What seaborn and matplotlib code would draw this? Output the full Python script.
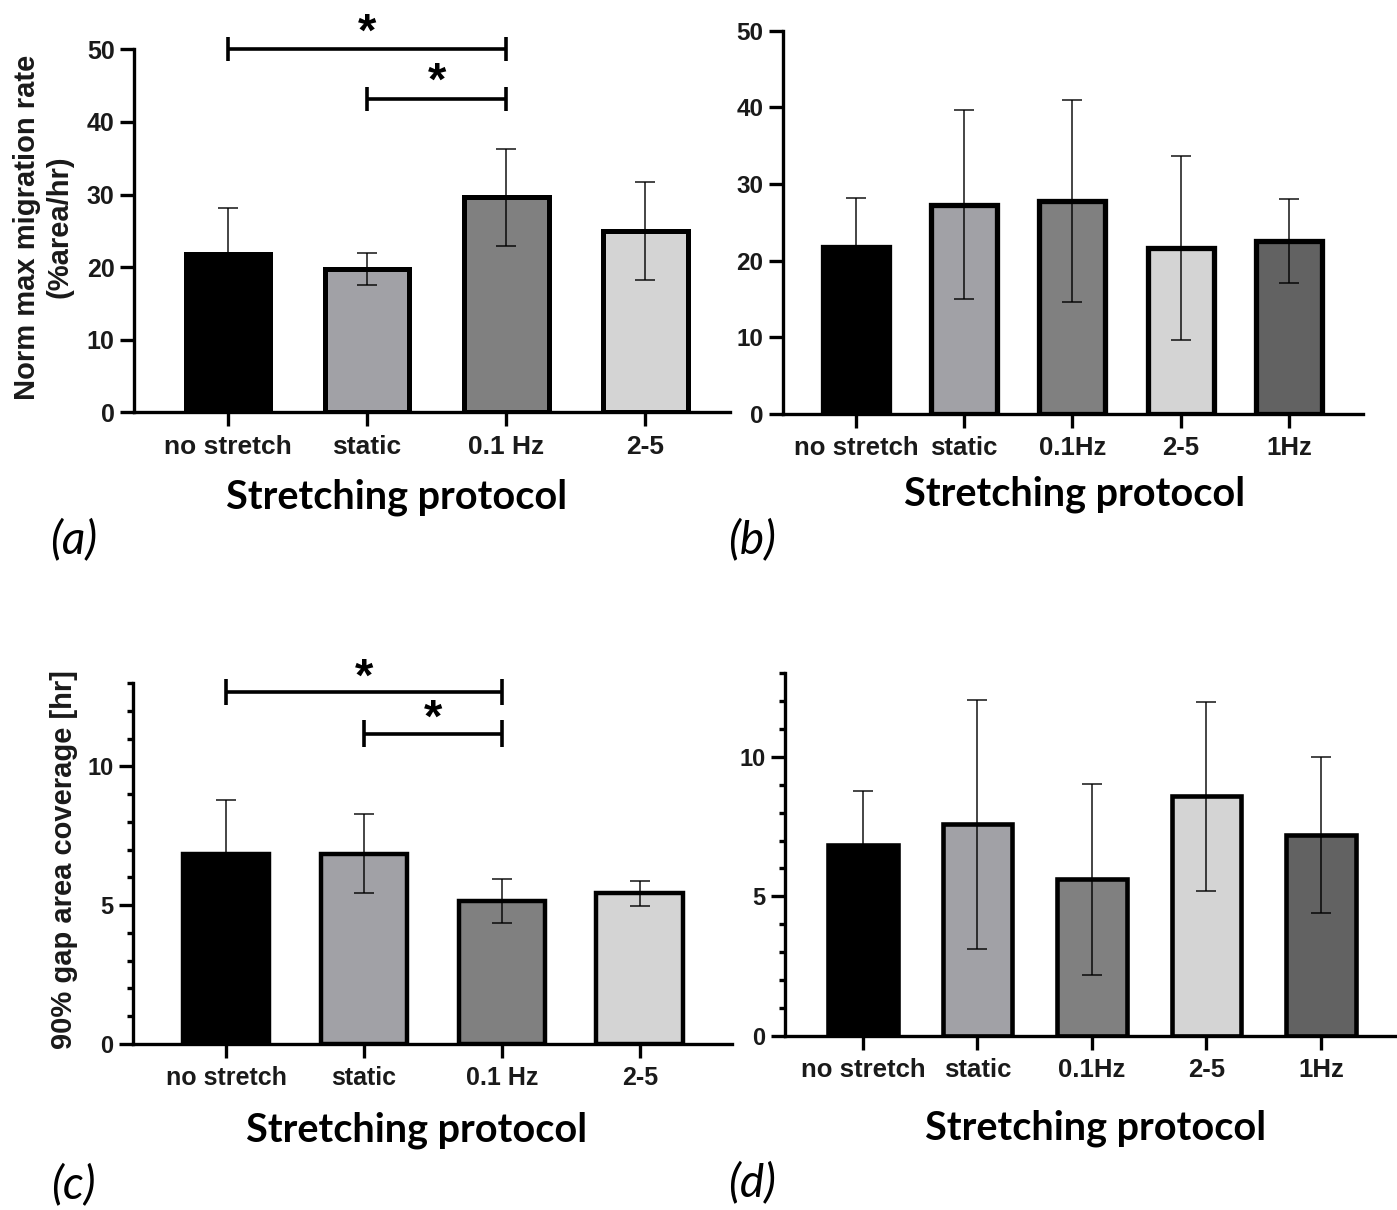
import numpy as np
import pandas as pd
import matplotlib
matplotlib.use("Agg")
import matplotlib.pyplot as plt
import seaborn as sns
from matplotlib.ticker import MultipleLocator

# ---- data -------------------------------------------------------------
cats_four = ["no stretch", "static", "0.1 Hz", "2-5"]
cats_five = ["no stretch", "static", "0.1Hz", "2-5", "1Hz"]

rate_a_mean = [21.8, 19.7, 29.6, 25.0]
rate_a_sd = [6.4, 2.2, 6.7, 6.7]

rate_b_mean = [21.8, 27.3, 27.8, 21.7, 22.6]
rate_b_sd = [6.4, 12.3, 13.2, 12.0, 5.5]

cover_c_mean = [6.85, 6.85, 5.15, 5.42]
cover_c_sd = [1.93, 1.42, 0.79, 0.46]

cover_d_mean = [6.85, 7.58, 5.62, 8.58, 7.2]
cover_d_sd = [1.94, 4.45, 3.42, 3.37, 2.78]

# significance brackets: (from category, to category, height)
sig_a = [(0, 2, 50.0), (1, 2, 43.2)]
sig_c = [(0, 2, 12.67), (1, 2, 11.18)]

bar_colors = ["#000000", "#a1a1a6", "#808080", "#d4d4d4", "#626262"]

# ---- style ------------------------------------------------------------
sns.set_theme(style="ticks")
plt.rcParams["font.family"] = ["Liberation Sans", "DejaVu Sans"]
plt.rcParams["axes.linewidth"] = 2.4

W, H = 1397, 1210
fig = plt.figure(figsize=(W / 100, H / 100), dpi=100)


def rect(l, r, t, b):
    return [l / W, 1 - b / H, (r - l) / W, (b - t) / H]


def panel(pos, cats, means, sds, ylim, xlim, bar_w, edge_lw, xt_size, yt_size,
          major=None, minor=None):
    ax = fig.add_axes(pos)
    df = pd.DataFrame({"protocol": cats, "value": means})
    sns.barplot(data=df, x="protocol", y="value", hue="protocol",
                palette=bar_colors[:len(cats)], errorbar=None, width=bar_w,
                edgecolor="black", linewidth=edge_lw, saturation=1,
                legend=False, ax=ax)
    ax.errorbar(np.arange(len(cats)), means, yerr=sds, fmt="none",
                ecolor="#000000", elinewidth=1.2, capsize=7, capthick=1.2,
                alpha=0.85, zorder=5)
    sns.despine(ax=ax)
    ax.set_xlim(*xlim)
    ax.set_ylim(*ylim)
    ax.set_xlabel("")
    ax.set_ylabel("")
    if major is not None:
        ax.yaxis.set_major_locator(MultipleLocator(major))
    if minor is not None:
        ax.yaxis.set_minor_locator(MultipleLocator(minor))
        ax.tick_params(axis="y", which="minor", length=4.5, width=2.4,
                       color="black")
    ax.tick_params(axis="both", which="major", length=10, width=2.4,
                   color="black")
    ax.tick_params(axis="x", pad=6, labelsize=xt_size)
    ax.tick_params(axis="y", pad=4, labelsize=yt_size)
    for lab in ax.get_xticklabels() + ax.get_yticklabels():
        lab.set_fontweight("bold")
        lab.set_color("#1a1a1a")
    for s in ("left", "bottom"):
        ax.spines[s].set_linewidth(2.4)
        ax.spines[s].set_color("black")
    return ax


def brackets(ax, sigs, tick_half, star_off, star_size):
    for i0, i1, y in sigs:
        ax.plot([i0, i1], [y, y], color="black", lw=2.6, clip_on=False,
                solid_capstyle="butt")
        ax.vlines([i0, i1], y - tick_half, y + tick_half, color="black",
                  lw=2.6, clip_on=False)
        ax.text((i0 + i1) / 2, y + star_off, "*", ha="center", va="baseline",
                fontsize=star_size, fontweight="bold", color="black",
                clip_on=False)


ax_a = panel(rect(134, 730, 49.3, 412.5), cats_four, rate_a_mean, rate_a_sd,
             (0, 50), (-0.676, 3.61), 0.61, 3.6, 19, 18, major=10)
brackets(ax_a, sig_a, 1.65, 0.5, 34)

ax_b = panel(rect(783, 1363, 30.7, 414), cats_five, rate_b_mean, rate_b_sd,
             (0, 50), (-0.674, 4.684), 0.61, 3.8, 18.5, 17.5, major=10)

ax_c = panel(rect(133, 732, 683, 1044), cats_four, cover_c_mean, cover_c_sd,
             (0, 13), (-0.674, 3.667), 0.63, 3.2, 18, 17, major=5, minor=1)
brackets(ax_c, sig_c, 0.47, 0.05, 34)

ax_d = panel(rect(785, 1397, 673, 1036), cats_five, cover_d_mean, cover_d_sd,
             (0, 13), (-0.681, 4.664), 0.61, 3.3, 18.5, 17, major=5, minor=1)

# ---- axis titles and panel letters ------------------------------------
label_font = dict(family=["Lato", "DejaVu Sans"], fontweight="bold",
                  fontsize=28.5, color="black")
fig.text(397 / W, 1 - 497 / H, "Stretching protocol", ha="center",
         va="center", **label_font)
fig.text(1075 / W, 1 - 494 / H, "Stretching protocol", ha="center",
         va="center", **label_font)
fig.text(417 / W, 1 - 1130 / H, "Stretching protocol", ha="center",
         va="center", **label_font)
fig.text(1096 / W, 1 - 1128 / H, "Stretching protocol", ha="center",
         va="center", **label_font)

fig.text(43 / W, 1 - 227 / H, "Norm max migration rate\n(%area/hr)",
         rotation=90, ha="center", va="center", multialignment="center",
         fontsize=21, fontweight="bold", color="#1a1a1a", linespacing=1.22)
fig.text(64 / W, 1 - 860 / H, "90% gap area coverage [hr]", rotation=90,
         ha="center", va="center", fontsize=21, fontweight="bold",
         color="#1a1a1a")

letter_font = dict(family=["Lato", "DejaVu Sans"], style="italic",
                   fontsize=33, color="black")
fig.text(74 / W, 1 - 540 / H, "(a)", ha="center", va="center", **letter_font)
fig.text(752 / W, 1 - 540 / H, "(b)", ha="center", va="center", **letter_font)
fig.text(73 / W, 1 - 1185 / H, "(c)", ha="center", va="center", **letter_font)
fig.text(752 / W, 1 - 1183 / H, "(d)", ha="center", va="center", **letter_font)

fig.savefig("out.png", dpi=100, facecolor="white")
